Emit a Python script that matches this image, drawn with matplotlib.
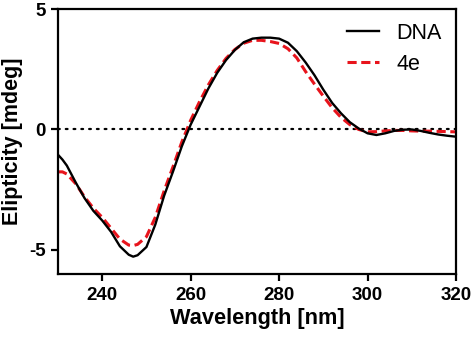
import numpy as np
import matplotlib.pyplot as plt

wavelength = [230, 231, 232, 234, 236, 238, 240, 242, 244, 246, 247, 248, 250,
              252, 254, 256, 258, 260, 262, 264, 266, 268, 270, 272, 274, 276,
              278, 280, 282, 284, 286, 288, 290, 292, 294, 296, 298, 300, 302,
              304, 306, 308, 310, 312, 314, 316, 318, 320]

dna = [-1.05, -1.25, -1.50, -2.20, -2.85, -3.38, -3.78, -4.25, -4.85, -5.20,
       -5.28, -5.22, -4.88, -3.95, -2.75, -1.75, -0.70, 0.20, 0.95, 1.70,
       2.35, 2.88, 3.30, 3.62, 3.77, 3.81, 3.81, 3.77, 3.60, 3.25, 2.78,
       2.25, 1.65, 1.10, 0.67, 0.30, 0.04, -0.16, -0.23, -0.16, -0.06, -0.01,
       0.00, -0.06, -0.14, -0.21, -0.26, -0.30]

cmpd_4e = [-1.76, -1.76, -1.85, -2.25, -2.80, -3.27, -3.65, -4.10, -4.55, -4.80,
           -4.82, -4.77, -4.45, -3.65, -2.55, -1.55, -0.52, 0.38, 1.15, 1.85,
           2.45, 2.95, 3.32, 3.58, 3.70, 3.70, 3.65, 3.57, 3.35, 2.97, 2.40,
           1.88, 1.38, 0.90, 0.50, 0.20, 0.00, -0.10, -0.09, -0.06, -0.04, -0.04,
           -0.06, -0.07, -0.07, -0.08, -0.09, -0.10]

x_ticks = [240, 260, 280, 300, 320]
y_ticks = [-5, 0, 5]

plt.rcParams['font.family'] = ['Liberation Sans', 'DejaVu Sans']
plt.rcParams['axes.unicode_minus'] = False

fig = plt.figure(figsize=(4.74, 3.39), dpi=100)
ax = fig.add_axes([58 / 474, 1 - 274 / 339, (456 - 58) / 474, (274 - 9) / 339])

ax.axhline(0, color='black', linewidth=1.6, linestyle=(0, (0.8, 2.7)),
           dash_capstyle='round', zorder=1)
ax.plot(wavelength, dna, color='black', linewidth=1.7, label='DNA', zorder=3)
ax.plot(wavelength, cmpd_4e, color='#e8141c', linewidth=2.2,
        linestyle=(0, (3.0, 1.5)), label='4e', zorder=2)

ax.set_xlim(230, 320)
ax.set_ylim(-6, 5)
ax.set_xticks(x_ticks)
ax.set_yticks(y_ticks)
ax.tick_params(direction='out', length=5, width=1.6, labelsize=13.5, pad=4)
for lbl in ax.get_xticklabels() + ax.get_yticklabels():
    lbl.set_fontweight('bold')
for sp in ax.spines.values():
    sp.set_linewidth(1.6)

ax.set_xlabel('Wavelength [nm]', fontsize=15.7, fontweight='bold', labelpad=3)
ax.set_ylabel('Elipticity [mdeg]', fontsize=15.5, fontweight='bold')
ax.yaxis.set_label_coords(-0.087, 0.5)

ax.legend(loc='upper right', frameon=False, fontsize=15.5, handlelength=1.5,
          handletextpad=0.8, labelspacing=0.45, borderaxespad=0.25)

fig.savefig('out.png', dpi=100)
